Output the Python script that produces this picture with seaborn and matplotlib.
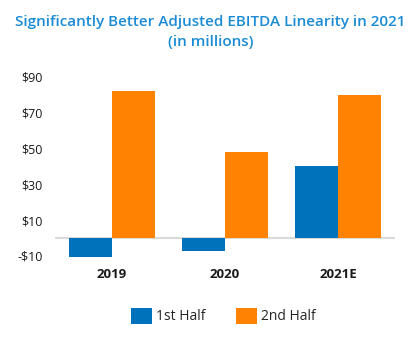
import matplotlib
matplotlib.use("Agg")
import matplotlib.pyplot as plt
import seaborn as sns
import pandas as pd
from matplotlib.patches import Patch

years = ["2019", "2020", "2021E"]
first_half = [-10.4, -7, 40]
second_half = [82, 48, 80]
series_names = ["1st Half", "2nd Half"]
y_ticks = [-10, 10, 30, 50, 70, 90]
y_tick_labels = ["-$10", "$10", "$30", "$50", "$70", "$90"]

colors = ["#0072BB", "#FF8200"]

df = pd.DataFrame({
    "year": years * 2,
    "value": first_half + second_half,
    "series": [series_names[0]] * 3 + [series_names[1]] * 3,
})

sns.set_theme(style="white")
plt.rcParams["font.family"] = ["Open Sans", "DejaVu Sans"]

fig = plt.figure(figsize=(4.17, 3.46), dpi=100)
W, H = 417, 346
ax = fig.add_axes([55 / W, 1 - 262 / H, 340 / W, 192 / H])

sns.barplot(data=df, x="year", y="value", hue="series", palette=colors,
            saturation=1, width=0.76, ax=ax, legend=False, linewidth=0)

ax.set_xlim(-0.5, 2.5)
ax.set_ylim(-13.4, 93.9)
ax.axhline(0, color="#DADADA", lw=1.5, zorder=0)
for s in ax.spines.values():
    s.set_visible(False)
ax.set_yticks(y_ticks)
ax.set_yticklabels(y_tick_labels, fontsize=9, color="#1a1a1a")
ax.set_xticks(range(len(years)))
ax.set_xticklabels(years, fontsize=9.5, fontweight="bold", color="#1a1a1a")
ax.tick_params(axis="y", length=0, pad=9)
ax.tick_params(axis="x", length=0, pad=4)
ax.set_xlabel("")
ax.set_ylabel("")

fig.text(0.505, 1 - 22 / H, "Significantly Better Adjusted EBITDA Linearity in 2021",
         ha="center", va="center", fontsize=11, fontweight="semibold", color="#1A8BD4")
fig.text(0.505, 1 - 42 / H, "(in millions)",
         ha="center", va="center", fontsize=11, fontweight="semibold", color="#1A8BD4")

handles = [Patch(facecolor=c, edgecolor="none", label=n) for c, n in zip(colors, series_names)]
fig.legend(handles=handles, loc="center", bbox_to_anchor=(0.535, 1 - 316 / H), ncol=2,
           frameon=False, fontsize=10, handlelength=1.5, handleheight=1.4,
           handletextpad=0.3, columnspacing=2.2)

fig.savefig("out.png", dpi=100)
